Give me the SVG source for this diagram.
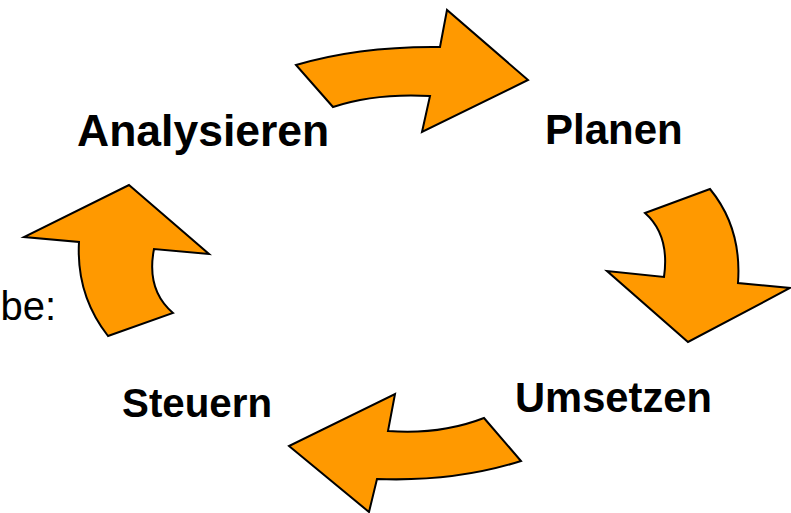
<svg xmlns="http://www.w3.org/2000/svg" width="791" height="513" viewBox="0 0 791 513">
<style>
.arr{fill:#FF9900;stroke:#000;stroke-width:2;stroke-linejoin:miter}
.lbl{font-family:"Liberation Sans",Arial,sans-serif;font-weight:bold;fill:#000}
.plain{font-family:"Liberation Sans",Arial,sans-serif;fill:#000}
</style>
<rect width="791" height="513" fill="#fff"/>
<g id="connectors">
<path class="arr" d="M296,65 Q360,46 440,47 L447,10 L528,80 L422,132 L430,96 Q375,93 333,107 Z"/>
<path class="arr" d="M645,213 L710,189 Q742,228 738,283 L790,288 L688,342 L607,271 L664,277 Q670,235 645,213 Z"/>
<path class="arr" d="M484,418 L521,461 Q455,482 377,479 L369,512 L289,446 L395,394 L388,431 Q440,435 484,418 Z"/>
<path class="arr" d="M129,185 L209,254 L154,249 Q146,290 173,313 L108,336 Q76,295 79,242 L24,237 Z"/>
</g>
<g id="node-analysieren"><text class="lbl" x="77" y="146" font-size="44.5">Analysieren</text></g>
<g id="node-planen"><text class="lbl" x="545" y="144" font-size="42">Planen</text></g>
<g id="node-umsetzen"><text class="lbl" x="515" y="412" font-size="41.7">Umsetzen</text></g>
<g id="node-steuern"><text class="lbl" x="122" y="417" font-size="40.3">Steuern</text></g>
<text class="plain" x="56" y="320" font-size="40" text-anchor="end">be:</text>
</svg>
